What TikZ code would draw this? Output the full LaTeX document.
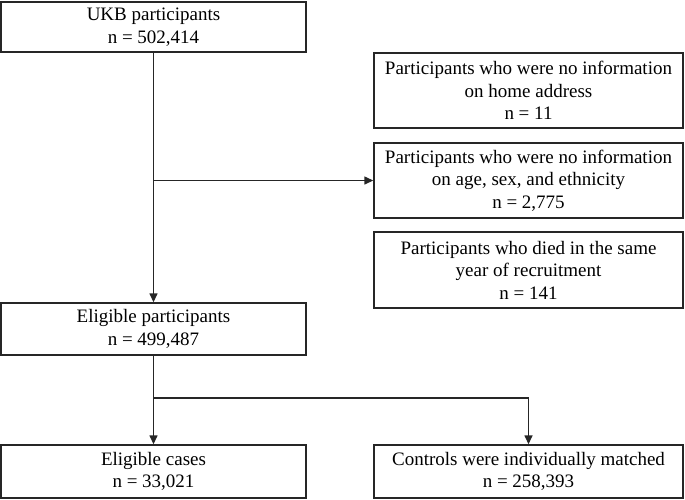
\documentclass[tikz,border=0pt]{standalone}
\usepackage{fontspec}
\setmainfont{Liberation Serif}
\newfontfamily\tnrfont{Liberation Serif}
\usetikzlibrary{arrows.meta}
\begin{document}
\begin{tikzpicture}[x=1pt,y=-1pt,
  box/.style={draw=black!85, line width=1.4pt, inner sep=0pt, align=center,
    font=\tnrfont\fontsize{19}{22.5}\selectfont},
  smallbox/.style={box, minimum width=305pt},
  bigbox/.style={box, minimum width=309pt},
  arr/.style={draw=black!85, line width=1.4pt, -{Triangle[length=9pt,width=8pt]}}]
\useasboundingbox (0,0) rectangle (685,499);
\node[smallbox, minimum height=50pt] (ukb) at (153.5,27) {UKB participants\\n = 502,414};
\node[bigbox, minimum height=75pt] (r1) at (528.5,90.5) {Participants who were no information\\on home address\\n = 11};
\node[bigbox, minimum height=75pt] (r2) at (528.5,180.5) {Participants who were no information\\on age, sex, and ethnicity\\n = 2,775};
\node[bigbox, minimum height=76pt] (r3) at (528.5,270) {Participants who died in the same\\year of recruitment\\n = 141};
\node[smallbox, minimum height=52pt] (elig) at (153.5,329) {Eligible participants\\n = 499,487};
\node[smallbox, minimum height=53pt] (cases) at (153.5,471.5) {Eligible cases\\n = 33,021};
\node[bigbox, minimum height=53pt] (ctrl) at (528.5,471.5) {Controls were individually matched\\n = 258,393};
\coordinate (b1) at (ukb.south |- r2.west);
\coordinate (b2) at (153.5,398);
\draw[arr] (ukb.south) -- (elig.north);
\draw[arr] (b1) -- (r2.west);
\draw[arr] (elig.south) -- (cases.north);
\draw[arr] (b2) -| (ctrl.north);
\end{tikzpicture}
\end{document}
